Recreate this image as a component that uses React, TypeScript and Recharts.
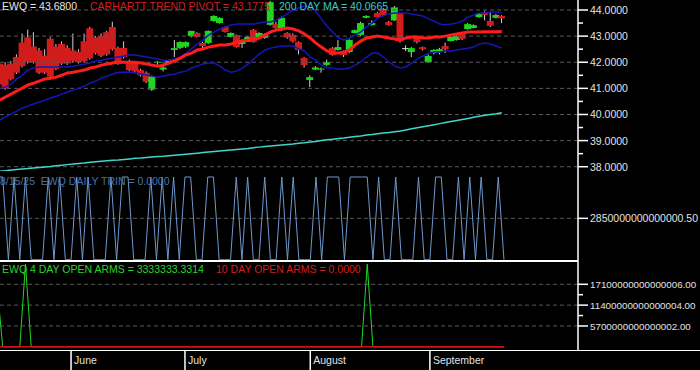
import React from "react";
import { ComposedChart, Bar, Line, XAxis, YAxis, ReferenceLine } from "recharts";

const FONT = "'Liberation Sans', Arial, sans-serif";
const SLOTS = 103; // trading-day slots across the plot, bars fill the first 90

const monthStarts = [13, 33, 55, 76];
const monthNames = ["June", "July", "August", "September"];

const opens = [
  41.95, 41.9, 41.95, 42.2, 42.75, 42.95, 42.6, 42.45, 42.25, 42.9,
  42.6, 42.7, 42.55, 42.45, 42.4, 42.8, 43.3, 42.95, 43.0, 43.15,
  43.35, 42.55, 42.55, 42.05, 41.95, 41.7, 41.6, 40.95, 41.98, 41.72,
  41.97, 42.47, 42.55, 42.6, 43.0, 43.12, 42.74, 42.74, 43.58, 43.5,
  43.35, 42.97, 43.04, 42.7, 42.78, 43.23, 42.93, 42.93, 43.43, 43.46,
  43.23, 43.12, 43.05, 42.77, 42.16, 41.32, 41.72, 41.72, 41.9, 42.54,
  42.47, 42.4, 42.39, 43.12, 43.04, 43.7, 43.42, 43.88, 44.0, 43.54,
  43.6, 43.88, 42.54, 42.39, 42.93, 42.58, 42.0, 42.35, 42.39, 42.62,
  42.81, 42.85, 43.08, 43.27, 43.31, 43.73, 43.88, 43.58, 43.7, 43.77,
];
const highs = [
  42.05, 42.0, 42.05, 42.3, 43.1, 43.25, 43.15, 42.55, 42.5, 42.95,
  42.7, 42.8, 42.65, 43.1, 42.5, 43.1, 43.35, 43.0, 43.1, 43.2,
  43.55, 42.6, 42.8, 42.1, 42.0, 41.75, 41.65, 41.5, 42.05, 41.95,
  42.1, 42.85, 42.8, 42.8, 43.2, 43.15, 42.78, 43.22, 43.8, 43.72,
  43.38, 43.14, 43.06, 42.88, 43.0, 43.27, 43.15, 43.1, 44.35, 43.55,
  43.75, 43.15, 43.1, 42.8, 42.2, 41.5, 41.85, 41.8, 42.1, 42.58,
  42.85, 42.45, 42.88, 43.25, 43.55, 43.8, 43.6, 43.92, 44.05, 43.58,
  44.15, 43.9, 42.65, 42.58, 43.0, 42.6, 42.3, 42.5, 42.55, 42.75,
  43.0, 43.05, 43.1, 43.5, 43.45, 43.88, 43.95, 43.92, 43.85, 43.8,
];
const lows = [
  41.05, 40.95, 41.3, 41.55, 41.8, 41.95, 41.95, 41.55, 41.55, 41.4,
  41.7, 41.9, 41.9, 42.0, 41.95, 42.0, 42.1, 42.3, 42.2, 42.25,
  42.45, 41.9, 42.15, 41.65, 41.6, 41.45, 41.2, 40.9, 41.9, 41.65,
  41.95, 42.2, 42.5, 42.55, 42.95, 42.95, 42.5, 42.7, 43.55, 43.48,
  43.14, 42.95, 42.56, 42.55, 42.8, 42.75, 42.9, 42.9, 43.4, 43.28,
  43.2, 42.9, 42.75, 42.3, 41.8, 41.05, 41.7, 41.6, 41.85, 42.25,
  42.45, 42.2, 42.35, 43.1, 43.0, 43.68, 43.4, 43.7, 43.78, 43.4,
  43.58, 42.75, 42.43, 42.2, 42.72, 42.45, 41.98, 42.3, 42.3, 42.35,
  42.8, 42.83, 42.85, 43.25, 43.3, 43.7, 43.6, 43.35, 43.68, 43.5,
];
const closes = [
  41.15, 41.0, 41.35, 41.6, 41.85, 42.0, 42.0, 41.6, 41.6, 41.45,
  41.75, 41.95, 41.95, 42.05, 42.0, 42.05, 42.15, 42.35, 42.25, 42.3,
  42.5, 41.95, 42.2, 41.7, 41.65, 41.5, 41.25, 41.45, 42.02, 41.8,
  42.07, 42.54, 42.77, 42.77, 43.2, 42.97, 42.62, 43.2, 43.77, 43.7,
  43.16, 43.12, 42.58, 42.85, 42.97, 42.77, 43.12, 43.08, 44.3, 43.31,
  43.7, 42.95, 42.8, 42.47, 41.89, 41.43, 41.8, 41.76, 42.0, 42.28,
  42.58, 42.28, 42.85, 43.23, 43.5, 43.77, 43.5, 43.73, 43.81, 43.42,
  44.1, 42.8, 42.54, 42.54, 42.77, 42.5, 42.24, 42.47, 42.5, 42.5,
  42.97, 43.0, 42.89, 43.46, 43.42, 43.85, 43.81, 43.39, 43.81, 43.68,
];
const trendPivot = [
  40.55, 40.67, 40.78, 40.9, 41.01, 41.13, 41.2, 41.28, 41.36, 41.39,
  41.43, 41.51, 41.59, 41.62, 41.66, 41.7, 41.78, 41.82, 41.89, 41.93,
  41.97, 42.0, 42.0, 42.0, 42.0, 41.97, 41.93, 41.89, 41.85, 41.89,
  41.97, 42.05, 42.16, 42.28, 42.35, 42.47, 42.51, 42.58, 42.62, 42.66,
  42.66, 42.7, 42.77, 42.81, 42.85, 42.89, 42.93, 43.04, 43.16, 43.23,
  43.27, 43.31, 43.27, 43.2, 43.08, 42.93, 42.74, 42.58, 42.43, 42.35,
  42.35, 42.39, 42.47, 42.66, 42.81, 42.93, 42.97, 43.0, 42.97, 42.93,
  42.89, 42.85, 42.93, 42.97, 42.97, 42.93, 42.93, 42.97, 42.97, 43.0,
  43.04, 43.08, 43.12, 43.16, 43.16, 43.16, 43.17, 43.17, 43.17, 43.18,
];
const upperBand = [
  41.01, 41.05, 41.16, 41.36, 41.51, 41.7, 41.78, 41.82, 41.82, 41.82,
  41.82, 41.82, 41.82, 41.85, 41.89, 41.93, 41.97, 42.05, 42.08, 42.12,
  42.16, 42.2, 42.24, 42.28, 42.28, 42.24, 42.2, 42.16, 42.12, 42.08,
  42.08, 42.12, 42.2, 42.35, 42.51, 42.7, 42.85, 43.04, 43.16, 43.27,
  43.35, 43.43, 43.46, 43.46, 43.46, 43.46, 43.5, 43.54, 43.54, 43.62,
  43.73, 43.85, 44.0, 44.08, 44.15, 44.11, 43.96, 43.66, 43.39, 43.16,
  42.93, 42.85, 42.93, 43.04, 43.16, 43.35, 43.5, 43.69, 43.77, 43.85,
  43.89, 43.89, 43.89, 43.85, 43.81, 43.77, 43.66, 43.58, 43.46, 43.43,
  43.46, 43.5, 43.58, 43.73, 43.81, 43.89, 43.89, 43.92, 43.92, 43.89,
];
const lowerBand = [
  39.79, 39.9, 40.02, 40.13, 40.25, 40.32, 40.4, 40.48, 40.55, 40.63,
  40.7, 40.78, 40.86, 40.93, 41.01, 41.09, 41.2, 41.28, 41.39, 41.47,
  41.55, 41.62, 41.62, 41.62, 41.59, 41.55, 41.51, 41.47, 41.43, 41.47,
  41.51, 41.55, 41.62, 41.66, 41.78, 41.85, 41.93, 41.97, 41.97, 41.85,
  41.7, 41.62, 41.66, 41.78, 41.93, 42.12, 42.31, 42.47, 42.54, 42.58,
  42.62, 42.62, 42.62, 42.51, 42.43, 42.2, 42.08, 41.89, 41.78, 41.78,
  41.74, 41.74, 41.78, 41.89, 42.01, 42.2, 42.35, 42.35, 42.2, 42.01,
  41.85, 41.78, 41.82, 41.97, 42.12, 42.24, 42.35, 42.39, 42.39, 42.43,
  42.43, 42.47, 42.51, 42.54, 42.58, 42.7, 42.74, 42.7, 42.62, 42.54,
];
const ma200 = [
  37.83, 37.85, 37.87, 37.89, 37.91, 37.93, 37.95, 37.97, 37.99, 38.01,
  38.04, 38.06, 38.08, 38.1, 38.12, 38.14, 38.17, 38.19, 38.21, 38.23,
  38.25, 38.26, 38.28, 38.3, 38.32, 38.33, 38.35, 38.37, 38.39, 38.4,
  38.42, 38.44, 38.46, 38.48, 38.5, 38.52, 38.54, 38.56, 38.58, 38.6,
  38.62, 38.64, 38.66, 38.68, 38.7, 38.73, 38.75, 38.77, 38.79, 38.81,
  38.83, 38.85, 38.87, 38.9, 38.92, 38.95, 38.97, 39.0, 39.03, 39.05,
  39.08, 39.1, 39.13, 39.16, 39.18, 39.21, 39.23, 39.26, 39.29, 39.31,
  39.34, 39.37, 39.41, 39.45, 39.49, 39.53, 39.57, 39.61, 39.65, 39.69,
  39.73, 39.77, 39.81, 39.85, 39.89, 39.93, 39.97, 40.0, 40.03, 40.07,
];
// TRIN and OPEN ARMS values in units of 1e15
const dailyTrin = [
  5.7, 5.7, 0, 5.7, 0, 5.7, 0, 0, 0, 5.7,
  0, 5.7, 0, 0, 5.7, 0, 5.7, 0, 0, 0,
  5.7, 0, 5.7, 5.7, 0, 0, 0, 5.7, 0, 5.7,
  0, 5.7, 0, 5.7, 5.7, 0, 0, 5.7, 5.7, 0,
  0, 0, 5.7, 0, 5.7, 0, 0, 5.7, 0, 0,
  5.7, 0, 5.7, 0, 0, 0, 5.7, 0, 5.7, 5.7,
  5.7, 0, 5.7, 5.7, 5.7, 5.7, 0, 5.7, 0, 0,
  5.7, 0, 0, 0, 5.7, 0, 0, 5.7, 5.7, 0,
  0, 5.7, 0, 5.7, 0, 5.7, 0, 0, 5.7, 0,
];
const openArms4 = [
  17, 0, 0, 0, 0, 22.6, 0, 0, 0, 0,
  0, 0, 0, 0, 0, 0, 0, 0, 0, 0,
  0, 0, 0, 0, 0, 0, 0, 0, 0, 0,
  0, 0, 0, 0, 0, 0, 0, 0, 0, 0,
  0, 0, 0, 0, 0, 0, 0, 0, 0, 0,
  0, 0, 0, 0, 0, 0, 0, 0, 0, 0,
  0, 0, 0, 0, 0, 22.6, 0, 0, 0, 0,
  0, 0, 0, 0, 0, 0, 0, 0, 0, 0,
  0, 0, 0, 0, 0, 0, 0, 0, 0, 0,
];
const openArms10 = [
  0, 0, 0, 0, 0, 0, 0, 0, 0, 0,
  0, 0, 0, 0, 0, 0, 0, 0, 0, 0,
  0, 0, 0, 0, 0, 0, 0, 0, 0, 0,
  0, 0, 0, 0, 0, 0, 0, 0, 0, 0,
  0, 0, 0, 0, 0, 0, 0, 0, 0, 0,
  0, 0, 0, 0, 0, 0, 0, 0, 0, 0,
  0, 0, 0, 0, 0, 0, 0, 0, 0, 0,
  0, 0, 0, 0, 0, 0, 0, 0, 0, 0,
  0, 0, 0, 0, 0, 0, 0, 0, 0, 0,
];

const priceTicks = [38, 38.5, 39, 39.5, 40, 40.5, 41, 41.5, 42, 42.5, 43, 43.5, 44];
const priceGrid = [38, 39, 40, 41, 42, 43, 44];
const trinTicks = [2.85];
const trinLabels = ["2850000000000000.50"];
const armsTicks = [5.7, 8.55, 11.4, 14.25, 17.1];
const armsMajor = [5.7, 11.4, 17.1];
const armsLabels = ["5700000000000002.00", "11400000000000004.00", "17100000000000006.00"];

const rows = Array.from({ length: SLOTS }, (_, i) => ({
  idx: i,
  open: opens[i],
  high: highs[i],
  low: lows[i],
  close: closes[i],
  pivot: trendPivot[i],
  upper: upperBand[i],
  lower: lowerBand[i],
  ma: ma200[i],
  trin: dailyTrin[i],
  arms4: openArms4[i],
  arms10: openArms10[i],
}));

const PAD = { left: -3, right: 0 };
const AXIS_W = 122;

function Candle(props: any) {
  const { x, y, width, height, payload } = props;
  if (!payload || payload.open == null || !isFinite(y) || !isFinite(height)) return null;
  const { open, close, high, low } = payload;
  const h = Math.abs(height);
  const top = height >= 0 ? y : y + height;
  const ratio = high > low ? h / (high - low) : 0;
  const cx = x + width / 2;
  const yo = top + (high - open) * ratio;
  const yc = top + (high - close) * ratio;
  const fill = close > open ? "#1fd61f" : close < open ? "#d21c1c" : "#e8e8e8";
  return (
    <g>
      <line x1={cx} x2={cx} y1={top} y2={top + h} stroke="#d0d0d0" strokeWidth={1} />
      <rect x={cx - 3.5} y={Math.min(yo, yc)} width={7} height={Math.max(Math.abs(yo - yc), 1)} fill={fill} />
    </g>
  );
}

function tickRenderer(isMajor: (v: number) => boolean, label: (v: number) => string, size = 10.5) {
  return (p: any) => {
    const v = p.payload.value;
    const major = isMajor(v);
    return (
      <g>
        <line x1={p.x} x2={p.x + (major ? 10 : 5)} y1={p.y} y2={p.y} stroke="#fff" strokeWidth={1.5} />
        {major && (
          <text x={p.x + 12} y={p.y + 4} fill="#e2e2e2" fontSize={size} fontFamily={FONT}>
            {label(v)}
          </text>
        )}
      </g>
    );
  };
}

const priceTick = tickRenderer(
  (v) => Number.isInteger(v),
  (v) => v.toFixed(4)
);
const trinTick = tickRenderer(
  (v) => trinTicks.includes(v),
  (v) => trinLabels[trinTicks.indexOf(v)]
);
const armsTick = tickRenderer(
  (v) => armsMajor.includes(v),
  (v) => armsLabels[armsMajor.indexOf(v)],
  9.8
);

function MonthTick(p: any) {
  const k = monthStarts.indexOf(p.payload.value);
  if (k < 0) return <g />;
  return (
    <g>
      <line x1={p.x} x2={p.x} y1={p.y} y2={p.y + 20} stroke="#fff" strokeWidth={1.5} />
      <text x={p.x + 3} y={p.y + 14} fill="#e2e2e2" fontSize={10.5} fontFamily={FONT}>
        {monthNames[k]}
      </text>
    </g>
  );
}

const axisLine = { stroke: "#fff", strokeWidth: 1.5 };
const grid = { stroke: "#5a5a5a", strokeDasharray: "4 3" };

const txt = (left: number, top: number, color: string): React.CSSProperties => ({
  position: "absolute",
  left,
  top,
  color,
  fontFamily: FONT,
  fontSize: 10.5,
  lineHeight: "12px",
  whiteSpace: "pre",
});

export default function App() {
  return (
    <div style={{ position: "relative", width: 700, height: 370, background: "#000", overflow: "hidden" }}>
      <style>{"body{margin:0;background:#000} .recharts-surface{overflow:visible}"}</style>

      <div style={{ position: "absolute", left: 0, top: 0 }}>
        <ComposedChart width={700} height={171} data={rows} margin={{ top: 0, right: 0, bottom: 0, left: 0 }}>
          <XAxis dataKey="idx" hide padding={PAD} />
          <YAxis
            orientation="right"
            width={AXIS_W}
            type="number"
            domain={[37.836, 44.383]}
            allowDataOverflow
            ticks={priceTicks}
            interval={0}
            tickSize={0}
            tickMargin={0}
            tickLine={false}
            axisLine={axisLine}
            tick={priceTick}
          />
          {priceGrid.map((v) => (
            <ReferenceLine key={v} y={v} {...grid} />
          ))}
          <Line dataKey="ma" stroke="#3fd6d0" strokeWidth={1.5} dot={false} activeDot={false} isAnimationActive={false} />
          <Line dataKey="upper" stroke="#1616b8" strokeWidth={1.5} dot={false} activeDot={false} isAnimationActive={false} />
          <Line dataKey="lower" stroke="#1616b8" strokeWidth={1.5} dot={false} activeDot={false} isAnimationActive={false} />
          <Bar
            dataKey={(d: any) => (d.low == null ? null : [d.low, d.high])}
            barSize={5}
            shape={(p: any) => <Candle {...p} />}
            isAnimationActive={false}
          />
          <Line dataKey="pivot" stroke="#ff1c1c" strokeWidth={3} dot={false} activeDot={false} isAnimationActive={false} />
        </ComposedChart>
      </div>

      <div style={{ position: "absolute", left: 0, top: 171 }}>
        <ComposedChart width={700} height={90} data={rows} margin={{ top: 0, right: 0, bottom: 0, left: 0 }}>
          <XAxis dataKey="idx" hide padding={PAD} />
          <YAxis
            orientation="right"
            width={AXIS_W}
            type="number"
            domain={[-0.09, 6.113]}
            allowDataOverflow
            ticks={trinTicks}
            interval={0}
            tickSize={0}
            tickMargin={0}
            tickLine={false}
            axisLine={axisLine}
            tick={trinTick}
          />
          {trinTicks.map((v) => (
            <ReferenceLine key={v} y={v} {...grid} />
          ))}
          <Line dataKey="trin" stroke="#6f98cc" strokeWidth={1} dot={false} activeDot={false} isAnimationActive={false} />
        </ComposedChart>
      </div>

      <div style={{ position: "absolute", left: 0, top: 261 }}>
        <ComposedChart width={700} height={109} data={rows} margin={{ top: 0, right: 0, bottom: 0, left: 0 }}>
          <XAxis
            dataKey="idx"
            padding={PAD}
            height={20}
            interval={0}
            tickSize={0}
            tickMargin={0}
            tickLine={false}
            axisLine={false}
            tick={(p: any) => <MonthTick {...p} />}
          />
          <YAxis
            orientation="right"
            width={AXIS_W}
            type="number"
            domain={[-0.876, 23.47]}
            allowDataOverflow
            ticks={armsTicks}
            interval={0}
            tickSize={0}
            tickMargin={0}
            tickLine={false}
            axisLine={axisLine}
            tick={armsTick}
          />
          {armsMajor.map((v) => (
            <ReferenceLine key={v} y={v} {...grid} />
          ))}
          <Line dataKey="arms4" stroke="#22d822" strokeWidth={1} dot={false} activeDot={false} isAnimationActive={false} />
          <Line dataKey="arms10" stroke="#cc1212" strokeWidth={1.5} dot={false} activeDot={false} isAnimationActive={false} />
        </ComposedChart>
      </div>

      {/* panel frame lines */}
      <div style={{ position: "absolute", left: 0, top: 260, width: 578, height: 1.5, background: "#fff" }} />
      <div style={{ position: "absolute", left: 0, top: 349.5, width: 700, height: 1.5, background: "#fff" }} />

      <div style={txt(2, 0, "#e6e6e6")}>EWQ = 43.6800</div>
      <div style={txt(90, 0, "#d41e1e")}>CARHARTT TREND PIVOT = 43.1775</div>
      <div style={txt(279, 0, "#3ccaca")}>200 DAY MA = 40.0665</div>
      <div style={txt(0, 175, "#4a74a8")}>8/15/25  EWQ DAILY TRIN = 0.0000</div>
      <div style={txt(2, 263, "#2ad42a")}>EWQ 4 DAY OPEN ARMS = 3333333.3314</div>
      <div style={txt(216, 263, "#d41e1e")}>10 DAY OPEN ARMS = 0.0000</div>
    </div>
  );
}
